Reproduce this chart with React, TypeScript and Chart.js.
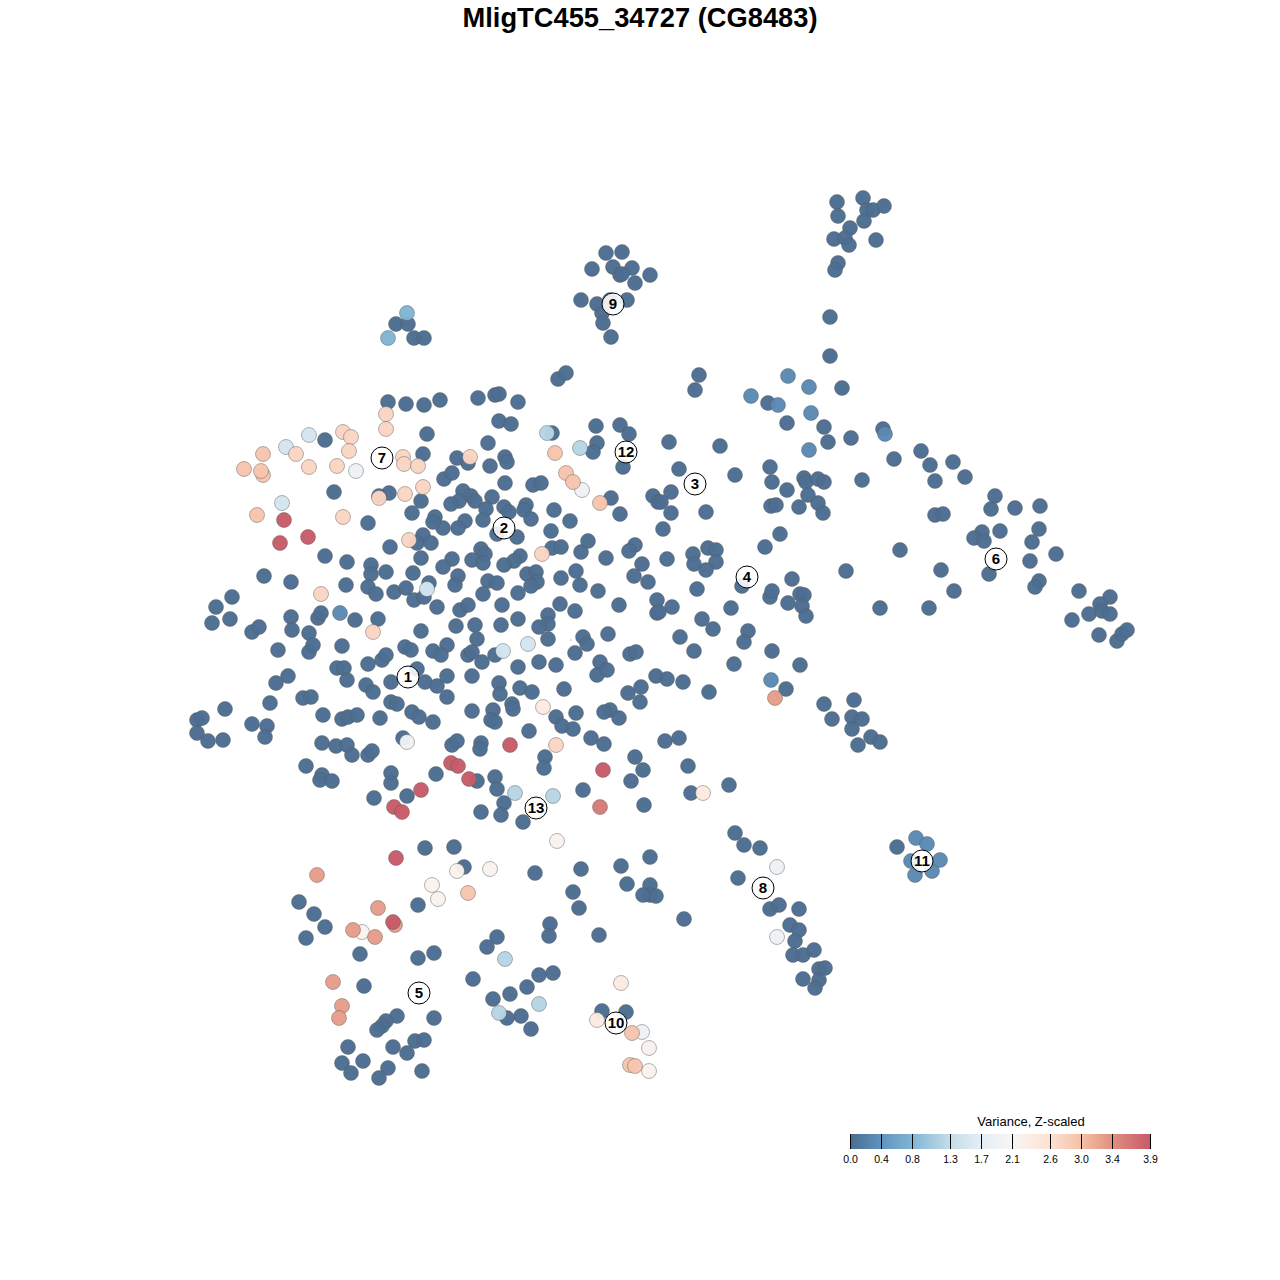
import React, { useEffect, useRef } from "react";
import { Chart, registerables } from "chart.js";

Chart.register(...registerables);

const titleText = "MligTC455_34727 (CG8483)";
const legendTitle = "Variance, Z-scaled";
const legendTicks = [0.0, 0.4, 0.8, 1.3, 1.7, 2.1, 2.6, 3.0, 3.4, 3.9];
const legendColors = ["#4a6b90", "#5f93c0", "#80b4d4", "#c3dde9", "#e4edf4", "#f8f6f4", "#fde2d3", "#f6c0a8", "#e0917f", "#c65b68"];

const lowest: number[][] = [
  [863,198],[837,202],[867,210],[873,210],[884,206],[838,216],[864,221],[850,228],[834,239],[845,238],[849,245],[876,240],[838,263],[835,270],[830,317],[830,356],
  [606,253],[622,252],[592,269],[613,267],[632,268],[620,275],[622,274],[650,275],[635,283],[581,300],[597,304],[627,300],[602,313],[603,323],[611,337],[610,300],
  [396,324],[408,324],[414,338],[424,338],
  [388,402],[406,404],[424,405],[440,400],[478,398],[495,395],[499,394],[518,402],[499,421],[511,424],[427,434],[488,443],[558,379],[566,373],[695,390],[699,375],[325,440],
  [423,454],[457,458],[468,463],[490,466],[505,457],[507,462],[444,479],[452,473],[505,483],[533,485],[541,483],[463,491],[471,496],[475,501],[492,497],[459,501],[451,504],[421,501],[412,513],[504,507],[509,512],[486,509],[483,520],[526,505],[524,510],[531,519],[554,510],[570,521],[551,531],[465,521],[458,528],[443,528],[435,517],[433,522],[497,534],[517,537],[423,535],[417,543],[431,543],[552,548],[561,547],[581,552],[588,541],[606,558],[635,545],[629,551],[642,564],[634,576],[648,582],[620,514],[611,498],[653,496],[658,502],[623,467],[597,443],[593,452],[596,426],[620,425],[629,434],[552,433],
  [334,492],[389,493],[379,496],[368,523],[390,547],[325,556],[347,562],[371,565],[371,574],[386,572],[264,576],[291,582],[346,585],[368,587],[376,594],[394,592],
  [421,558],[452,559],[443,567],[472,560],[481,549],[485,554],[483,563],[520,556],[514,561],[504,565],[413,573],[458,576],[455,585],[488,581],[497,583],[527,574],[536,572],[537,582],[531,586],[518,593],[483,594],[561,578],[576,571],[580,585],[598,591],[429,583],[406,588],[414,600],[424,597],[437,607],[460,610],[468,605],[502,605],[560,604],[575,611],[548,615],[548,624],[539,627],[518,619],[501,625],[475,625],[456,626],[421,631],[477,639],[447,645],[433,651],[441,655],[468,655],[472,652],[495,655],[405,647],[411,650],[548,639],[583,637],[587,644],[608,634],[619,605],[657,600],[657,613],[575,653],[630,654],[636,652],[600,662],[539,662],[556,665],
  [232,597],[216,607],[212,623],[230,619],[252,632],[259,627],[291,617],[292,630],[309,633],[318,618],[321,613],[355,620],[378,619],[309,652],[313,645],[278,650],[342,646],[382,660],[386,655],[368,664],[337,668],[344,668],
  [518,667],[482,662],[288,676],[276,683],[347,680],[417,669],[391,682],[366,685],[373,692],[425,682],[437,686],[447,676],[472,676],[447,697],[499,683],[500,694],[520,688],[532,692],[564,689],[303,698],[311,697],[391,702],[397,704],[323,715],[342,719],[348,717],[357,715],[380,718],[412,712],[419,717],[433,722],[472,711],[493,710],[491,720],[495,722],[512,704],[513,709],[529,731],[556,717],[562,726],[573,729],[576,713],
  [322,743],[336,746],[347,745],[352,755],[368,755],[372,751],[403,738],[452,745],[457,741],[481,743],[480,749],[545,757],[544,768],[306,766],[322,775],[320,780],[332,781],[391,773],[391,783],[436,774],[477,781],[495,777],[497,789],[374,798],[407,796],[504,803],[481,812],[501,815],[523,822],
  [197,720],[202,718],[197,733],[208,741],[223,740],[225,709],[252,724],[267,726],[265,737],[270,703],
  [597,675],[607,670],[628,693],[641,687],[656,676],[667,679],[683,682],[709,692],[640,702],[610,710],[604,712],[619,718],[591,738],[604,744],[635,757],[643,770],[631,781],[665,741],[679,738],[688,766],[691,793],[729,785],[644,805],[583,790],
  [694,651],[680,637],[713,629],[702,619],[672,607],[659,612],[731,608],[748,631],[744,642],[734,664],[772,651],[800,665],[786,689],[742,586],[770,597],[772,591],[792,579],[788,603],[800,594],[804,595],[802,606],[806,616],[846,571],[880,608],[929,608],[954,591],[941,570],[900,550],[765,547],[780,534],[693,554],[694,564],[708,548],[716,550],[716,562],[706,570],[697,589],[667,559],[663,529],[671,513],[671,492],[706,512],[661,502],[679,469],[735,475],[669,442],[720,446],[770,467],[772,482],[787,490],[804,478],[806,482],[818,479],[824,482],[771,506],[776,505],[799,507],[808,495],[818,503],[823,513],[862,480],[894,459],[883,429],[851,438],[828,442],[824,427],[787,423],[768,403],[842,388],
  [824,704],[854,700],[832,719],[852,717],[862,719],[852,729],[871,737],[880,742],[858,745],
  [921,451],[930,465],[935,481],[953,462],[965,477],[935,515],[943,514],[995,496],[991,509],[1015,508],[1040,506],[1039,529],[1032,542],[1056,554],[1030,561],[1039,581],[1035,587],[1000,531],[982,532],[974,538],[984,541],[989,574],[1079,591],[1110,597],[1100,604],[1089,614],[1072,620],[1102,611],[1110,614],[1099,635],[1117,641],[1122,634],[1127,630],
  [425,848],[454,847],[464,867],[535,873],[581,869],[621,866],[650,857],[627,884],[650,885],[650,895],[656,896],[643,895],[573,892],[579,908],[684,919],[599,935],[550,924],[549,936],[497,937],[487,947],[434,953],[418,958],[360,954],[418,905],[299,902],[314,914],[325,927],[306,938],[473,979],[527,987],[539,975],[553,973],[510,994],[493,999],[521,1016],[507,1018],[531,1029],[364,986],[434,1018],[397,1016],[386,1021],[382,1026],[377,1030],[348,1047],[415,1041],[424,1040],[407,1053],[393,1047],[363,1061],[342,1063],[351,1073],[388,1068],[379,1078],[422,1071],[602,1011],[626,1012],
  [735,833],[744,845],[760,848],[738,878],[770,909],[779,905],[799,909],[790,925],[799,930],[795,941],[793,955],[803,955],[814,950],[819,969],[825,968],[803,979],[819,980],[815,988],[897,847],
];
const variance03: number[][] = [[788,376],[809,387],[751,396],[778,405],[811,413],[809,450],[885,434],[340,613],[771,680],[916,838],[927,844],[932,871],[915,875],[911,861],[940,860]];
const variance08: number[][] = [[407,313],[388,338]];
const variance12: number[][] = [[580,448],[515,793],[553,796],[505,959],[539,1004],[499,1013],[547,433]];
const variance15: number[][] = [[309,435],[286,447],[282,503],[528,644],[427,589],[503,651]];
const variance19: number[][] = [[356,471],[407,742],[582,490],[777,867],[777,937],[642,1032]];
const variance21: number[][] = [[557,841],[457,871],[432,885],[438,899],[490,869],[649,1048],[649,1071],[362,932]];
const variance24: number[][] = [[621,983],[597,1020],[703,793],[543,707]];
const variance27: number[][] = [[470,457],[403,457],[404,464],[418,466],[423,487],[405,494],[379,498],[409,540],[373,632],[321,594],[386,414],[386,429],[343,432],[351,437],[349,451],[296,454],[309,467],[337,466],[343,517],[556,745],[542,554]];
const variance29: number[][] = [[263,454],[244,469],[263,475],[261,471],[257,515],[555,453],[566,473],[573,482],[600,503],[468,893],[632,1033],[630,1065],[635,1066]];
const variance32: number[][] = [[775,698],[317,875],[378,908],[395,925],[353,930],[375,937],[333,982],[342,1006],[339,1018]];
const variance35: number[][] = [[600,807]];
const variance39: number[][] = [[284,520],[308,537],[280,543],[451,763],[458,766],[469,779],[421,790],[394,807],[402,812],[510,745],[603,770],[396,858],[393,922]];

const groups: { value: number; points: number[][] }[] = [
  { value: 0.02, points: lowest },
  { value: 0.3, points: variance03 },
  { value: 0.8, points: variance08 },
  { value: 1.2, points: variance12 },
  { value: 1.5, points: variance15 },
  { value: 1.9, points: variance19 },
  { value: 2.2, points: variance21 },
  { value: 2.4, points: variance24 },
  { value: 2.75, points: variance27 },
  { value: 2.95, points: variance29 },
  { value: 3.3, points: variance32 },
  { value: 3.6, points: variance35 },
  { value: 3.9, points: variance39 },
];

const clusterIds = ["1","2","3","4","5","6","7","8","9","10","11","12","13"];
const clusterX = [408,504,695,747,419,996,382,763,613,616,922,626,536];
const clusterY = [677,528,484,577,993,559,458,888,304,1023,861,452,808];
const speck: number[][] = [[571,640]];

const legendLeft = 850, legendRight = 1150, legendTop = 1134, legendBottom = 1149;
const legendMax = 3.9;

function hexToRgb(h: string) {
  return [1, 3, 5].map((i) => parseInt(h.slice(i, i + 2), 16));
}
function rampColor(v: number, alpha: number) {
  let i = 0;
  while (i < legendTicks.length - 2 && v > legendTicks[i + 1]) i++;
  const t = Math.min(1, Math.max(0, (v - legendTicks[i]) / (legendTicks[i + 1] - legendTicks[i])));
  const a = hexToRgb(legendColors[i]), b = hexToRgb(legendColors[i + 1]);
  const c = a.map((x, k) => Math.round(x + (b[k] - x) * t));
  return `rgba(${c[0]},${c[1]},${c[2]},${alpha})`;
}

const paper = {
  id: "paper",
  beforeDraw(chart: any) {
    const { ctx, width, height } = chart;
    ctx.save();
    ctx.fillStyle = "#fff";
    ctx.fillRect(0, 0, width, height);
    ctx.restore();
  },
};

const overlays = {
  id: "overlays",
  afterDatasetsDraw(chart: any) {
    const { ctx, scales } = chart;
    ctx.save();
    ctx.fillStyle = "#000";
    ctx.textAlign = "center";
    ctx.textBaseline = "middle";
    ctx.font = "bold 15px 'Liberation Sans', Arial, sans-serif";
    clusterIds.forEach((id, i) => {
      ctx.fillText(id, scales.x.getPixelForValue(clusterX[i]), scales.y.getPixelForValue(clusterY[i]) + 0.5);
    });
    // colour bar
    const bx = scales.x.getPixelForValue(legendLeft);
    const ex = scales.x.getPixelForValue(legendRight);
    const ty = scales.y.getPixelForValue(legendTop);
    const by = scales.y.getPixelForValue(legendBottom);
    const g = ctx.createLinearGradient(bx, 0, ex, 0);
    legendTicks.forEach((t, i) => g.addColorStop(t / legendMax, legendColors[i]));
    ctx.fillStyle = g;
    ctx.fillRect(bx, ty, ex - bx, by - ty);
    ctx.strokeStyle = "#000";
    ctx.lineWidth = 1;
    ctx.fillStyle = "#000";
    ctx.font = "10.5px 'Liberation Sans', Arial, sans-serif";
    legendTicks.forEach((t) => {
      const px = Math.round(bx + (t / legendMax) * (ex - bx)) + 0.5;
      ctx.beginPath();
      ctx.moveTo(px, ty);
      ctx.lineTo(px, by);
      ctx.stroke();
      ctx.fillText(t.toFixed(1), px, by + 11);
    });
    ctx.font = "13px 'Liberation Sans', Arial, sans-serif";
    ctx.fillText(legendTitle, scales.x.getPixelForValue(1031), scales.y.getPixelForValue(1122.5));
    ctx.restore();
  },
};

export default function App() {
  const ref = useRef<HTMLCanvasElement>(null);
  useEffect(() => {
    document.body.style.margin = "0";
    const canvas = ref.current!;
    canvas.getContext("2d", { alpha: false });
    const chart = new Chart(canvas, {
      type: "scatter",
      data: {
        datasets: [
          ...groups.map((g, i) => ({
            label: String(g.value),
            order: groups.length + 2 - i,
            data: g.points.map((p) => ({ x: p[0], y: p[1] })),
            backgroundColor: rampColor(g.value, 0.97),
            borderColor: "rgba(90,90,90,0.45)",
            borderWidth: 1,
            pointRadius: 7.5,
          })),
          {
            label: "speck",
            order: 2,
            data: speck.map((p) => ({ x: p[0], y: p[1] })),
            backgroundColor: "#4a6b90",
            borderWidth: 0,
            pointRadius: 0.6,
          },
          {
            label: "clusters",
            order: 1,
            data: clusterX.map((x, i) => ({ x, y: clusterY[i] })),
            backgroundColor: "rgba(255,255,255,0.88)",
            borderColor: "#000",
            borderWidth: 1,
            pointRadius: 11,
          },
        ],
      },
      options: {
        animation: false,
        responsive: false,
        layout: { padding: 0, autoPadding: false },
        scales: {
          x: { type: "linear", display: false, min: 0, max: 1280 },
          y: { type: "linear", display: false, min: 33, max: 1280, reverse: true },
        },
        plugins: {
          legend: { display: false },
          tooltip: { enabled: false },
          title: {
            display: true,
            text: titleText,
            color: "#000",
            font: { family: "'Liberation Sans', Arial, sans-serif", size: 27.3, weight: "bold", lineHeight: "27px" },
            padding: { top: 6, bottom: 0 },
          },
        },
      },
      plugins: [paper, overlays],
    } as any);
    return () => chart.destroy();
  }, []);
  return (
    <div style={{ position: "absolute", left: 0, top: 0, width: 1280, height: 1280 }}>
      <canvas ref={ref} width={1280} height={1280} style={{ display: "block" }} />
    </div>
  );
}
